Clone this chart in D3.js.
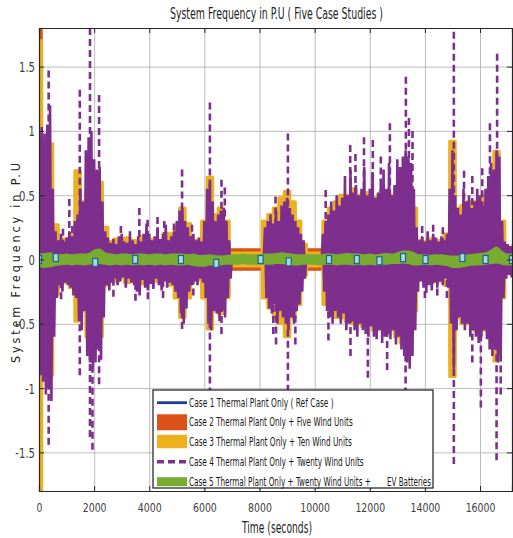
<!DOCTYPE html>
<html><head><meta charset="utf-8">
<script src="https://cdn.jsdelivr.net/npm/d3@7/dist/d3.min.js"></script>
<style>
html,body{margin:0;padding:0;background:#fff;}
svg{display:block;}
text{font-family:"Liberation Sans Narrow","Arial Narrow","DejaVu Sans Condensed",sans-serif;}
</style></head><body>
<svg id="chart" width="513" height="538"></svg>
<script>
// ---------------- data ----------------
const titleText = "System Frequency in P.U ( Five Case Studies )";
const xLabelText = "Time (seconds)";
const yLabelText = "System Frequency in P.U";
const legendLabels = [
  "Case 1 Thermal Plant Only ( Ref Case )",
  "Case 2 Thermal Plant Only + Five Wind Units",
  "Case 3 Thermal Plant Only + Ten Wind Units",
  "Case 4 Thermal Plant Only + Twenty Wind Units",
  "Case 5 Thermal Plant Only + Twenty Wind Units +"
];
const legendExtra = "EV Batteries";
const xTicks = [0, 2000, 4000, 6000, 8000, 10000, 12000, 14000, 16000];
const yTicks = [-1.5, -1, -0.5, 0, 0.5, 1, 1.5];

// Case 4 (Twenty wind units): dense body envelope, one sample every 100 s
const case4Step = 100;
const case4Hi = [
  1.0, 1.03, 0.98, 1.05, 1.2, 0.55, 0.22, 0.15, 0.2, 0.14,
  0.17, 0.22, 0.18, 0.3, 0.35, 0.55, 0.45, 0.85, 0.95, 1.0,
  0.78, 0.7, 0.72, 0.45, 0.22, 0.17, 0.13, 0.16, 0.12, 0.18,
  0.2, 0.14, 0.13, 0.17, 0.15, 0.12, 0.18, 0.14, 0.2, 0.28,
  0.2, 0.15, 0.18, 0.25, 0.16, 0.2, 0.27, 0.15, 0.18, 0.22,
  0.3, 0.38, 0.4, 0.3, 0.25, 0.18, 0.2, 0.15, 0.17, 0.14,
  0.3, 0.55, 0.6, 0.45, 0.3, 0.35, 0.38, 0.4, 0.3, 0.15,
  0.03, 0.03, 0.03, 0.03, 0.03, 0.03, 0.03, 0.03, 0.03, 0.03,
  0.03, 0.03, 0.25, 0.3, 0.35, 0.28, 0.38, 0.3, 0.42, 0.45,
  0.48, 0.4, 0.35, 0.3, 0.25, 0.2, 0.15, 0.03, 0.03, 0.03,
  0.03, 0.03, 0.03, 0.2, 0.3, 0.35, 0.45, 0.38, 0.5, 0.42,
  0.48, 0.65, 0.5, 0.7, 0.52, 0.58, 0.5, 0.55, 0.72, 0.5,
  0.55, 0.68, 0.48, 0.52, 0.58, 0.7, 0.55, 0.75, 0.5, 0.58,
  0.78, 0.72, 0.8, 0.85, 0.8, 0.75, 0.55, 0.25, 0.15, 0.18,
  0.14, 0.22, 0.15, 0.2, 0.17, 0.14, 0.18, 0.15, 0.2, 0.55,
  0.85, 0.5, 0.4, 0.35, 0.55, 0.45, 0.5, 0.4, 0.45, 0.55,
  0.5, 0.42, 0.55, 0.65, 0.75, 0.7, 0.85, 0.8, 0.3, 0.14,
  0.12, 0.1, 0.12
];
const case4Lo = [
  -0.9, -0.95, -1.05, -1.0, -1.1, -0.6, -0.3, -0.2, -0.25, -0.18,
  -0.2, -0.22, -0.28, -0.3, -0.48, -0.55, -0.4, -0.75, -0.8, -0.85,
  -0.8, -0.7, -0.78, -0.45, -0.2, -0.24, -0.18, -0.15, -0.2, -0.17,
  -0.14, -0.22, -0.15, -0.18, -0.2, -0.25, -0.28, -0.16, -0.22, -0.24,
  -0.19, -0.23, -0.15, -0.2, -0.24, -0.17, -0.22, -0.18, -0.2, -0.25,
  -0.3, -0.42, -0.5, -0.38, -0.25, -0.2, -0.17, -0.2, -0.15, -0.18,
  -0.3, -0.5, -0.55, -0.4, -0.42, -0.48, -0.4, -0.45, -0.3, -0.15,
  -0.03, -0.03, -0.03, -0.03, -0.03, -0.03, -0.03, -0.03, -0.03, -0.03,
  -0.03, -0.03, -0.3, -0.38, -0.42, -0.35, -0.5, -0.4, -0.45, -0.5,
  -0.55, -0.45, -0.5, -0.4, -0.35, -0.25, -0.15, -0.03, -0.03, -0.03,
  -0.03, -0.03, -0.03, -0.25, -0.4, -0.45, -0.5, -0.4, -0.45, -0.5,
  -0.42, -0.55, -0.5, -0.48, -0.55, -0.6, -0.5, -0.55, -0.58, -0.6,
  -0.52, -0.6, -0.62, -0.55, -0.65, -0.6, -0.58, -0.62, -0.55, -0.66,
  -0.6, -0.7, -0.75, -0.8, -0.85, -0.75, -0.55, -0.25, -0.17, -0.22,
  -0.26, -0.2, -0.24, -0.18, -0.22, -0.17, -0.2, -0.15, -0.22, -0.5,
  -0.85, -0.55, -0.45, -0.5, -0.55, -0.5, -0.6, -0.55, -0.6, -0.65,
  -0.6, -0.55, -0.62, -0.7, -0.75, -0.7, -0.8, -0.75, -0.3, -0.15,
  -0.12, -0.14, -0.1
];
// Case 4 isolated dashed excursions (time s, value p.u.)
const case4SpikeT = [350, 870, 1100, 1210, 1480, 1850, 2180, 2970, 3300, 3640, 3940, 4300, 4545, 4900, 5190, 5550,
  6200, 6620, 6740, 8580, 9030, 10400, 11290, 11480, 11790, 12110, 12400, 12730, 13310, 13420, 13550,
  13900, 14300, 14650, 15050, 15420, 15720, 16080, 16360, 16620,
  350, 800, 1480, 1850, 1940, 2180, 2700, 3500, 3950, 4500, 5190, 5600, 6200, 6620, 8500, 8600, 9030, 9300,
  10500, 11300, 11930, 12630, 13300, 14000, 14450, 14800, 15050, 15720, 16030, 16600, 16750];
const case4SpikeV = [1.47, 0.24, 0.47, 0.26, 1.32, 1.8, 1.28, 0.26, 0.22, 0.4, 0.31, 0.33, 0.3, 0.28, 0.7, 0.27,
  1.22, 0.62, 0.56, 0.49, 0.98, 0.54, 0.89, 0.82, 0.95, 0.93, 0.8, 1.06, 1.42, 1.1, 1.0,
  0.26, 0.27, 0.25, 1.77, 0.69, 0.65, 0.71, 1.06, 1.6,
  -1.44, -0.31, -0.9, -1.38, -1.48, -0.97, -0.29, -0.32, -0.31, -0.3, -0.54, -0.28, -1.05, -0.58, -0.58, -0.66, -1.2, -0.66,
  -0.63, -0.75, -0.92, -0.86, -1.05, -0.3, -0.28, -0.3, -1.59, -0.8, -1.15, -1.56, -1.05];

// Cases 2, 3, 5 envelopes, one sample every 200 s
const envStep = 200;
const case3Hi = [
  1.7, 0.9, 0.9, 0.27, 0.15, 0.16, 0.2, 0.69, 0.45, 0.5,
  0.55, 0.6, 0.25, 0.14, 0.16, 0.12, 0.17, 0.15, 0.13, 0.18,
  0.14, 0.16, 0.15, 0.2, 0.2, 0.25, 0.4, 0.28, 0.15, 0.15,
  0.3, 0.64, 0.35, 0.4, 0.3, 0.05, 0.05, 0.05, 0.05, 0.05,
  0.05, 0.3, 0.35, 0.4, 0.48, 0.53, 0.45, 0.3, 0.12, 0.05,
  0.05, 0.05, 0.3, 0.4, 0.45, 0.5, 0.5, 0.55, 0.5, 0.52,
  0.5, 0.48, 0.5, 0.52, 0.5, 0.55, 0.6, 0.6, 0.4, 0.15,
  0.14, 0.16, 0.15, 0.14, 0.2, 0.92, 0.4, 0.42, 0.45, 0.45,
  0.48, 0.5, 0.56, 0.84, 0.3, 0.07, 0.07
];
const case3Lo = [
  -1.8, -0.9, -0.9, -0.27, -0.16, -0.18, -0.22, -0.48, -0.4, -0.6,
  -0.62, -0.6, -0.2, -0.15, -0.17, -0.14, -0.18, -0.16, -0.15, -0.19,
  -0.14, -0.17, -0.16, -0.15, -0.2, -0.3, -0.45, -0.3, -0.15, -0.16,
  -0.3, -0.54, -0.4, -0.42, -0.3, -0.05, -0.05, -0.05, -0.05, -0.05,
  -0.05, -0.3, -0.38, -0.45, -0.5, -0.6, -0.45, -0.35, -0.12, -0.05,
  -0.05, -0.05, -0.35, -0.42, -0.45, -0.45, -0.48, -0.5, -0.5, -0.52,
  -0.5, -0.55, -0.52, -0.5, -0.55, -0.6, -0.65, -0.65, -0.4, -0.15,
  -0.16, -0.18, -0.15, -0.17, -0.2, -0.91, -0.45, -0.5, -0.5, -0.55,
  -0.55, -0.55, -0.6, -0.79, -0.3, -0.07, -0.07
];
const case2Hi = [
  1.8, 0.85, 0.85, 0.25, 0.13, 0.14, 0.18, 0.6, 0.4, 0.45,
  0.5, 0.55, 0.22, 0.12, 0.14, 0.1, 0.15, 0.13, 0.11, 0.16,
  0.12, 0.14, 0.13, 0.18, 0.18, 0.22, 0.35, 0.25, 0.13, 0.13,
  0.27, 0.58, 0.32, 0.36, 0.27, 0.08, 0.08, 0.08, 0.08, 0.08,
  0.08, 0.27, 0.32, 0.36, 0.43, 0.48, 0.4, 0.27, 0.12, 0.08,
  0.08, 0.08, 0.27, 0.36, 0.4, 0.45, 0.45, 0.5, 0.45, 0.47,
  0.45, 0.43, 0.45, 0.47, 0.45, 0.5, 0.55, 0.55, 0.38, 0.13,
  0.12, 0.14, 0.13, 0.12, 0.18, 0.85, 0.36, 0.38, 0.4, 0.4,
  0.43, 0.45, 0.5, 0.76, 0.27, 0.1, 0.1
];
const case2Lo = [
  -1.8, -0.85, -0.85, -0.25, -0.14, -0.16, -0.2, -0.43, -0.36, -0.55,
  -0.56, -0.55, -0.18, -0.13, -0.15, -0.12, -0.16, -0.14, -0.13, -0.17,
  -0.12, -0.15, -0.14, -0.13, -0.18, -0.27, -0.4, -0.27, -0.13, -0.14,
  -0.27, -0.49, -0.36, -0.38, -0.27, -0.08, -0.08, -0.08, -0.08, -0.08,
  -0.08, -0.27, -0.34, -0.4, -0.45, -0.54, -0.4, -0.32, -0.12, -0.08,
  -0.08, -0.08, -0.32, -0.38, -0.4, -0.4, -0.43, -0.45, -0.45, -0.47,
  -0.45, -0.5, -0.47, -0.45, -0.5, -0.54, -0.58, -0.58, -0.36, -0.13,
  -0.14, -0.16, -0.13, -0.15, -0.18, -0.82, -0.4, -0.45, -0.45, -0.5,
  -0.5, -0.5, -0.54, -0.71, -0.27, -0.1, -0.1
];
const case5Hi = [
  0.04, 0.045, 0.05, 0.04, 0.035, 0.04, 0.035, 0.04, 0.04, 0.045,
  0.07, 0.08, 0.05, 0.04, 0.035, 0.04, 0.04, 0.035, 0.04, 0.04,
  0.035, 0.04, 0.04, 0.035, 0.04, 0.04, 0.04, 0.035, 0.04, 0.03,
  0.03, 0.035, 0.03, 0.025, 0.03, 0.035, 0.035, 0.04, 0.035, 0.035,
  0.035, 0.04, 0.04, 0.045, 0.05, 0.045, 0.04, 0.035, 0.035, 0.035,
  0.035, 0.035, 0.04, 0.04, 0.035, 0.04, 0.045, 0.04, 0.04, 0.035,
  0.04, 0.035, 0.04, 0.045, 0.04, 0.05, 0.065, 0.065, 0.05, 0.035,
  0.035, 0.03, 0.035, 0.035, 0.03, 0.025, 0.025, 0.03, 0.035, 0.04,
  0.045, 0.05, 0.07, 0.095, 0.06, 0.04, 0.04
];
const case5Lo = [
  -0.05, -0.06, -0.055, -0.045, -0.04, -0.035, -0.04, -0.035, -0.04, -0.035,
  -0.03, -0.03, -0.035, -0.04, -0.035, -0.04, -0.035, -0.04, -0.035, -0.04,
  -0.035, -0.04, -0.035, -0.04, -0.035, -0.04, -0.04, -0.035, -0.045, -0.05,
  -0.05, -0.04, -0.04, -0.04, -0.035, -0.035, -0.035, -0.03, -0.035, -0.035,
  -0.035, -0.035, -0.035, -0.03, -0.03, -0.035, -0.04, -0.04, -0.035, -0.035,
  -0.035, -0.04, -0.035, -0.035, -0.04, -0.035, -0.035, -0.04, -0.035, -0.04,
  -0.035, -0.04, -0.035, -0.035, -0.03, -0.03, -0.025, -0.03, -0.04, -0.04,
  -0.035, -0.04, -0.035, -0.04, -0.045, -0.06, -0.06, -0.055, -0.045, -0.04,
  -0.04, -0.035, -0.03, -0.025, -0.035, -0.04, -0.04
];
// Case 1 (reference) marker samples
const case1T = [0, 610, 2040, 3490, 5150, 6430, 8040, 9060, 10520, 11530, 12350, 13210, 14020, 15360, 16200, 17160];
const case1V = [0, 0.015, -0.023, 0, 0, -0.03, 0, -0.018, 0, 0, -0.01, 0.015, 0, 0.015, 0, 0];

// ---------------- chart ----------------
const C = {blue:"#1b3c96", red:"#D95319", orange:"#EDB120", purple:"#7E2F8E", green:"#77AC30"};
const svg = d3.select("#chart");
const L = 39, R = 512, T = 28, B = 491;
const x = d3.scaleLinear().domain([0, 17160]).range([L, R]);
const y = d3.scaleLinear().domain([-1.8, 1.8]).range([B, T]);
const K = 0.8;
function squeeze(sel, k) {
  sel.each(function () {
    const len = this.getComputedTextLength();
    if (len > 0) d3.select(this).attr("textLength", len * k).attr("lengthAdjust", "spacingAndGlyphs");
  });
}

svg.append("rect").attr("width", 513).attr("height", 538).attr("fill", "#fff");
svg.append("defs").append("clipPath").attr("id", "clip")
  .append("rect").attr("x", L).attr("y", T).attr("width", R - L).attr("height", B - T);

// grid
const grid = svg.append("g");
grid.append("g").attr("transform", `translate(0,${B})`)
  .call(d3.axisBottom(x).tickValues(xTicks).tickSize(-(B - T)).tickFormat(""))
  .call(g => g.select(".domain").remove())
  .selectAll("line").attr("stroke", "#bcbcbc").attr("stroke-width", 1);
grid.append("g").attr("transform", `translate(${L},0)`)
  .call(d3.axisLeft(y).tickValues(yTicks).tickSize(-(R - L)).tickFormat(""))
  .call(g => g.select(".domain").remove())
  .selectAll("line").attr("stroke", "#bcbcbc").attr("stroke-width", 1);

const plot = svg.append("g").attr("clip-path", "url(#clip)");
const envT = d3.range(case3Hi.length).map(i => i * envStep);
function envArea(hi, lo, curve) {
  return d3.area().x((d, i) => x(envT[i])).y0((d, i) => y(lo[i])).y1((d, i) => y(hi[i])).curve(curve)(hi);
}
// Case 2
plot.append("path").attr("d", envArea(case2Hi, case2Lo, d3.curveStep))
  .attr("fill", C.red).attr("stroke", C.red).attr("stroke-width", 2).attr("stroke-linejoin", "round");
// Case 3
plot.append("path").attr("d", envArea(case3Hi, case3Lo, d3.curveStep))
  .attr("fill", C.orange).attr("stroke", C.orange).attr("stroke-width", 3).attr("stroke-linejoin", "round");
// Case 4 body: fast oscillation between envelope values
const zig = [];
case4Hi.forEach((h, i) => {
  const t = i * case4Step;
  zig.push([t, h]);
  zig.push([t + case4Step / 2, case4Lo[i]]);
});
plot.append("path")
  .attr("d", d3.line().x(d => x(d[0])).y(d => y(d[1]))(zig))
  .attr("fill", "none").attr("stroke", C.purple).attr("stroke-width", 2.6)
  .attr("stroke-linejoin", "bevel");
// Case 4 dashed excursions
plot.selectAll("path.spike").data(case4SpikeT).join("path").attr("class", "spike")
  .attr("d", (t, i) => `M${x(t)},${y(case4SpikeV[i])}V${y(0)}`)
  .attr("fill", "none").attr("stroke", C.purple).attr("stroke-width", 2.6)
  .attr("stroke-dasharray", "7,4");
// Case 1 line
plot.append("path")
  .attr("d", d3.line().x((d, i) => x(case1T[i])).y(d => y(d))(case1V))
  .attr("fill", "none").attr("stroke", C.blue).attr("stroke-width", 2);
// Case 5
plot.append("path").attr("d", envArea(case5Hi, case5Lo, d3.curveMonotoneX))
  .attr("fill", C.green).attr("stroke", C.green).attr("stroke-width", 1.5);
// Case 1 markers
plot.selectAll("rect.mk").data(case1T).join("rect").attr("class", "mk")
  .attr("x", t => x(t) - 2.5).attr("y", (t, i) => y(case1V[i]) - 4)
  .attr("width", 5).attr("height", 8)
  .attr("fill", "#a6dcd6").attr("stroke", "#1d5f9c").attr("stroke-width", 1.2);

// axes (box with inward ticks)
const axCol = "#262626";
const ax = svg.append("g");
const xb = ax.append("g").attr("transform", `translate(0,${B})`)
  .call(d3.axisBottom(x).tickValues(xTicks).tickSize(-5).tickPadding(12).tickFormat(d3.format("d")));
const xt = ax.append("g").attr("transform", `translate(0,${T})`)
  .call(d3.axisTop(x).tickValues(xTicks).tickSize(-5).tickFormat(""));
const yl = ax.append("g").attr("transform", `translate(${L},0)`)
  .call(d3.axisLeft(y).tickValues(yTicks).tickSize(-5).tickPadding(4).tickFormat(d => String(d)));
const yr = ax.append("g").attr("transform", `translate(${R},0)`)
  .call(d3.axisRight(y).tickValues(yTicks).tickSize(-5).tickFormat(""));
[xb, xt, yl, yr].forEach(g => {
  g.select(".domain").attr("stroke", axCol).attr("stroke-width", 1.2);
  g.selectAll(".tick line").attr("stroke", axCol);
});
xb.selectAll("text").attr("font-size", 13).attr("fill", "#404040")
  .attr("font-family", '"Liberation Sans Narrow","Arial Narrow","DejaVu Sans Condensed",sans-serif');
yl.selectAll("text").attr("font-size", 14).attr("fill", "#404040").attr("dy", "0.36em")
  .attr("font-family", '"Liberation Sans Narrow","Arial Narrow","DejaVu Sans Condensed",sans-serif');
squeeze(xb.selectAll("text"), K);
squeeze(yl.selectAll("text"), K);

// title and labels
svg.append("text").attr("x", 276.5).attr("y", 18.5).attr("text-anchor", "middle")
  .attr("font-size", 15).attr("fill", "#222").text(titleText)
  .attr("textLength", 213).attr("lengthAdjust", "spacingAndGlyphs");
svg.append("text").attr("x", 277).attr("y", 533).attr("text-anchor", "middle")
  .attr("font-size", 16).attr("fill", "#222").text(xLabelText)
  .attr("textLength", 70).attr("lengthAdjust", "spacingAndGlyphs");
svg.append("text").attr("transform", "translate(19.5,263) rotate(-90)").attr("text-anchor", "middle")
  .attr("font-size", 12.5).attr("fill", "#222")
  .attr("font-family", '"Liberation Sans",Arial,sans-serif')
  .text(yLabelText).attr("textLength", 200).attr("lengthAdjust", "spacing");

// legend
const lg = svg.append("g");
lg.append("rect").attr("x", 153).attr("y", 390).attr("width", 280).attr("height", 98)
  .attr("fill", "#fff").attr("stroke", "#1a1a1a").attr("stroke-width", 1.2);
const rowY = [402.7, 422.3, 441.5, 461.7, 481.7];
const legendTextW = [145, 164, 163, 175, 182];
const sampleW = [2.8, 16, 13.5, 3.5, 9];
const sampleC = [C.blue, C.red, C.orange, C.purple, C.green];
const sampleDash = [null, null, null, "7,4", null];
legendLabels.forEach((lab, i) => {
  lg.append("line").attr("x1", 157).attr("x2", 187).attr("y1", rowY[i]).attr("y2", rowY[i])
    .attr("stroke", sampleC[i]).attr("stroke-width", sampleW[i])
    .attr("stroke-dasharray", sampleDash[i]);
});
// legend texts: horizontally compressed with a scale transform to the measured widths
function placeScaled(g, str, x0, y0, w) {
  const t = g.append("text").attr("x", 0).attr("y", 0)
    .attr("font-size", 11.5).attr("fill", "#1a1a1a").text(str);
  const n = t.node().getComputedTextLength();
  t.attr("transform", `translate(${x0},${y0}) scale(${w / n},1)`);
}
legendLabels.forEach((lab, i) => placeScaled(lg, lab, 189, rowY[i] + 4, legendTextW[i]));
placeScaled(lg, legendExtra, 387, rowY[4] + 4, 44);
</script>
</body></html>
